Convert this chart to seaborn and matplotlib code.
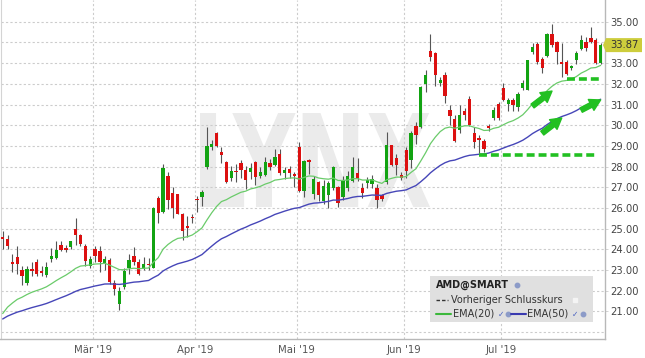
import numpy as np
import pandas as pd
import matplotlib
matplotlib.use("Agg")
import matplotlib.pyplot as plt
import seaborn as sns
from matplotlib.textpath import TextPath
from matplotlib.patches import PathPatch, Rectangle, Polygon
from matplotlib.font_manager import FontProperties
from matplotlib.transforms import Affine2D
from matplotlib.lines import Line2D

# ---------------- data ----------------
holidays = pd.to_datetime(["2019-02-18", "2019-04-19", "2019-05-27", "2019-07-04"])
dates = pd.bdate_range("2019-02-01", "2019-07-30")
dates = dates[~dates.isin(holidays)]

opens = [24.6, 24.5, 23.4, 23.65, 23.0, 22.38, 23.05, 23.4, 22.95, 22.75,
         23.55, 23.6, 24.2, 24.05, 24.1, 25.0, 24.7, 24.15, 23.2, 24.0,
         23.9, 23.35, 23.5, 22.4, 21.35, 22.2, 23.12, 23.66, 23.37, 23.04,
         23.3, 23.12, 26.48, 25.8, 27.55, 26.74, 26.66, 25.7, 25.1, 25.55,
         26.4, 26.53, 28.0, 28.93, 29.62, 28.69, 28.24, 27.45, 27.8, 28.19,
         27.83, 27.72, 28.2, 27.56, 27.6, 28.15, 28.09, 28.6, 27.67, 27.88,
         27.6, 28.93, 26.84, 28.33, 26.67, 27.24, 26.35, 26.64, 26.96, 27.03,
         26.51, 26.96, 27.32, 27.67, 26.95, 27.19, 27.16, 26.98, 26.62, 27.26,
         29.02, 28.42, 27.58, 28.8, 28.33, 29.98, 29.9, 32.01, 33.58, 33.5,
         32.04, 32.45, 30.75, 30.3, 29.78, 30.67, 31.27, 29.62, 29.38, 29.26,
         29.94, 30.36, 31.04, 31.81, 31.04, 31.23, 30.87, 31.81, 31.72, 33.54,
         33.92, 33.22, 33.33, 34.4, 34.03, 33.06, 33.06, 32.78, 33.14, 33.66,
         34.03, 34.19, 34.14, 33.0]
highs = [24.9, 24.7, 23.8, 24.15, 23.2, 23.2, 23.4, 23.55, 23.2, 23.4,
         24.05, 24.4, 24.4, 24.2, 24.4, 25.5, 24.75, 24.25, 23.7, 24.15,
         24.15, 23.7, 23.6, 22.5, 22.2, 23.1, 23.77, 24.13, 23.53, 23.64,
         23.6, 26.05, 26.56, 28.12, 27.75, 27.0, 26.7, 25.75, 25.6, 25.7,
         26.6, 26.85, 29.9, 29.28, 29.65, 28.93, 28.29, 28.04, 28.12, 28.32,
         28.04, 28.16, 28.25, 27.96, 28.45, 28.37, 28.85, 28.85, 27.96, 28.04,
         27.72, 29.17, 28.32, 28.37, 27.56, 27.32, 27.35, 27.32, 28.04, 27.08,
         27.56, 27.77, 28.45, 28.41, 27.2, 27.5, 27.6, 27.14, 26.67, 29.68,
         29.05, 28.6, 27.74, 28.95, 29.7, 30.14, 31.88, 32.69, 34.39, 33.53,
         32.33, 32.56, 30.99, 30.51, 30.99, 30.83, 31.4, 29.91, 29.54, 29.34,
         30.06, 30.87, 31.12, 32.04, 31.33, 31.33, 31.6, 32.17, 33.17, 33.98,
         34.03, 33.3, 34.47, 34.89, 34.08, 33.95, 33.14, 32.9, 33.59, 34.35,
         34.27, 34.76, 34.19, 33.95]
lows = [24.0, 24.0, 22.9, 22.8, 22.3, 22.3, 22.7, 22.7, 22.7, 22.65,
        23.4, 23.55, 23.9, 23.85, 24.0, 24.2, 24.15, 23.2, 23.1, 23.4,
        22.9, 23.0, 22.35, 21.8, 21.05, 22.07, 22.8, 23.25, 22.77, 22.99,
        23.0, 23.1, 25.27, 25.75, 25.96, 25.5, 25.69, 24.45, 24.58, 25.27,
        25.8, 26.08, 27.88, 28.8, 28.93, 28.16, 27.19, 27.32, 27.24, 27.45,
        26.92, 27.4, 27.13, 27.45, 27.56, 27.83, 28.04, 27.6, 27.4, 27.45,
        27.0, 26.76, 26.52, 27.64, 26.43, 26.35, 26.19, 26.0, 26.87, 26.03,
        26.38, 26.84, 27.24, 27.32, 26.47, 26.97, 26.96, 26.0, 26.35, 27.18,
        28.02, 27.58, 27.34, 27.45, 27.92, 29.1, 29.86, 31.6, 33.09, 31.88,
        31.88, 31.07, 30.02, 29.17, 29.62, 30.27, 29.94, 28.89, 28.65, 28.7,
        29.74, 30.23, 30.26, 31.17, 30.71, 30.71, 30.71, 31.68, 31.68, 33.43,
        32.98, 32.52, 33.3, 33.79, 32.98, 32.33, 32.41, 32.65, 32.94, 33.62,
        33.59, 33.95, 32.98, 32.95]
closes = [24.5, 24.15, 23.3, 23.27, 22.7, 23.05, 22.95, 22.8, 22.85, 23.15,
          23.7, 23.95, 23.95, 23.97, 24.4, 24.7, 24.25, 23.45, 23.55, 23.7,
          23.4, 23.55, 22.4, 22.1, 22.0, 22.95, 23.5, 23.37, 22.83, 23.28,
          23.23, 26.0, 25.75, 27.91, 26.37, 26.0, 25.72, 24.9, 25.04, 25.5,
          26.37, 26.78, 29.0, 29.1, 29.0, 28.56, 27.24, 27.8, 27.72, 27.83,
          27.35, 27.93, 27.48, 27.72, 28.2, 27.96, 28.45, 27.67, 27.83, 27.67,
          27.56, 26.84, 28.25, 28.2, 27.4, 26.64, 27.08, 27.19, 27.96, 26.22,
          27.35, 27.56, 28.0, 27.45, 26.71, 27.37, 27.42, 26.39, 26.45, 29.03,
          28.09, 28.06, 27.47, 27.8, 29.62, 29.54, 31.85, 32.45, 33.3, 32.45,
          32.2, 31.43, 30.43, 29.26, 30.51, 30.51, 30.02, 29.17, 29.3, 28.85,
          29.87, 30.74, 30.36, 31.2, 31.23, 31.0, 31.52, 32.04, 33.14, 33.79,
          33.06, 32.78, 34.4, 33.87, 33.54, 32.98, 32.49, 32.85, 33.5, 34.11,
          33.71, 34.03, 33.0, 33.87]

# EMA values just before the first visible bar
ema20_prev = 20.52
ema50_prev = 20.48

month_labels = ["Mär '19", "Apr '19", "Mai '19", "Jun '19", "Jul '19"]
price_ticks = list(range(21, 36))

# annotations drawn on the chart (support levels and trend arrows)
support_levels = [28.57, 32.25]
support_start = ["2019-06-24", "2019-07-19"]
support_end = ["2019-07-29", "2019-07-30"]
arrow_tail_dates = ["2019-07-10", "2019-07-12", "2019-07-24"]
arrow_tail_vals = [30.93, 29.62, 30.73]
arrow_head_dates = ["2019-07-16", "2019-07-18", "2019-07-30"]
arrow_head_vals = [31.65, 30.35, 31.22]

# ---------------- frame ----------------
df = pd.DataFrame({"date": dates, "open": opens, "high": highs,
                   "low": lows, "close": closes})
df["pos"] = np.arange(len(df))
df["ema20"] = pd.Series([ema20_prev] + closes).ewm(span=20, adjust=False).mean().iloc[1:].values
df["ema50"] = pd.Series([ema50_prev] + closes).ewm(span=50, adjust=False).mean().iloc[1:].values
pos_of = {d: p for d, p in zip(df["date"], df["pos"])}

sns.set_theme(style="white")
plt.rcParams["font.family"] = ["DejaVu Sans"]

W, H = 645, 358
fig = plt.figure(figsize=(W / 100, H / 100), dpi=100)
ax = fig.add_axes([0.5 / W, 1 - 339 / H, 604.5 / W, 339 / H])

GREEN_C = "#12a312"
RED_C = "#dc1010"
ANN = "#22c022"

# watermark
tp = TextPath((0, 0), "LYNX", size=1, prop=FontProperties(family="DejaVu Sans", weight="bold"))
ext = tp.get_extents()
bx0, bx1 = 200 / W, 430 / W
by0, by1 = 1 - 207 / H, 1 - 113 / H
tr = (Affine2D().translate(-ext.x0, -ext.y0)
      .scale((bx1 - bx0) / ext.width, (by1 - by0) / ext.height)
      .translate(bx0, by0) + fig.transFigure)
ax.add_patch(PathPatch(tp, transform=tr, facecolor="#ebebeb", edgecolor="none", zorder=0.1))

# candles
up = df["close"] >= df["open"]
colors = np.where(up, GREEN_C, RED_C)
ax.vlines(df["pos"], df["low"], df["high"], color="#555555", linewidth=0.8, zorder=2)
body_bottom = np.minimum(df["open"], df["close"])
body_h = np.maximum((df["close"] - df["open"]).abs(), 0.08)
ax.bar(df["pos"], body_h, bottom=body_bottom, width=0.68, color=colors,
       edgecolor="none", zorder=3)

# EMAs
sns.lineplot(data=df, x="pos", y="ema20", ax=ax, color="#6acb6a", linewidth=0.9, zorder=4)
sns.lineplot(data=df, x="pos", y="ema50", ax=ax, color="#4646b8", linewidth=1.0, zorder=4)

# support levels
for lvl, s, e in zip(support_levels, support_start, support_end):
    ax.plot([pos_of[pd.Timestamp(s)], pos_of[pd.Timestamp(e)]], [lvl, lvl],
            color=ANN, linewidth=2.6, dashes=(2.2, 1.1), zorder=5, solid_capstyle="butt")
# trend arrows
for td, tv, hd, hv in zip(arrow_tail_dates, arrow_tail_vals, arrow_head_dates, arrow_head_vals):
    ax.annotate("", xy=(pos_of[pd.Timestamp(hd)], hv), xytext=(pos_of[pd.Timestamp(td)], tv),
                arrowprops=dict(arrowstyle="simple,head_width=0.8,head_length=0.7,tail_width=0.32",
                                color=ANN, mutation_scale=11, shrinkA=0, shrinkB=0), zorder=6)

# last price (the tag hides the tick label it covers)
last = closes[-1]

# axes
ax.set_xlim(-0.45, 123.9)
ax.set_ylim(19.67, 36.05)
month_first = df.groupby(df["date"].dt.to_period("M"))["pos"].min().values[1:]
ax.set_xticks(month_first - 0.5)
ax.set_xticklabels(month_labels)
ax.set_yticks(price_ticks)
ax.set_yticklabels(["" if abs(v - last) < 0.5 else f"{v:.2f}" for v in price_ticks])
ax.yaxis.tick_right()
ax.set_xlabel("")
ax.set_ylabel("")
ax.set_axisbelow(True)
ax.grid(True, color="#cccccc", linewidth=0.8, linestyle=(0, (2, 2)))
ax.set_yticks([20], minor=True)
ax.grid(True, which="minor", axis="y", color="#cccccc", linewidth=0.8, linestyle=(0, (2, 2)))
ax.tick_params(axis="y", which="major", length=2.5, width=0.6, color="#cccccc", pad=1.0,
               labelsize=7.2, labelcolor="#444444")
ax.tick_params(axis="y", which="minor", length=0)
ax.tick_params(axis="x", length=0, pad=4, labelsize=7.3, labelcolor="#555555")
ax.spines["top"].set_visible(False)
ax.spines["left"].set_color("#d4d4d4")
ax.spines["left"].set_linewidth(0.8)
ax.spines["right"].set_color("#b8b8b8")
ax.spines["right"].set_linewidth(1.0)
ax.spines["bottom"].set_color("#b8b8b8")
ax.spines["bottom"].set_linewidth(1.0)

# last price tag
yfrac = ax.transData.transform((0, last))[1] / fig.dpi / (H / 100)
tagx0, tagx1 = 606 / W, 642 / W
th = 14 / H
fig.add_artist(Polygon([[603 / W, yfrac], [tagx0, yfrac + th / 2], [tagx1, yfrac + th / 2],
                        [tagx1, yfrac - th / 2], [tagx0, yfrac - th / 2]],
                       closed=True, transform=fig.transFigure, facecolor="#cdcd3c",
                       edgecolor="none", zorder=10))
fig.text(624 / W, yfrac, f"{last:.2f}", ha="center", va="center", fontsize=7.2,
         color="#333333", zorder=11)

# legend box
def fx(px):
    return px / W


def fy(py):
    return 1 - py / H


fig.add_artist(Rectangle((fx(430), fy(322)), fx(593) - fx(430), (322 - 276) / H,
                         transform=fig.transFigure, facecolor="#e0e0e0",
                         edgecolor="none", zorder=10))
fig.text(fx(436), fy(285), "AMD@SMART", fontsize=7.0, fontweight="bold", color="#222222",
         va="center", ha="left", zorder=11)
icon = dict(marker="o", markersize=3.2, color="#8c9bc8", linestyle="none",
            transform=fig.transFigure, zorder=11)
fig.add_artist(Line2D([fx(517)], [fy(285)], **icon))
fig.add_artist(Line2D([fx(436), fx(448)], [fy(300), fy(300)], color="#333333", linewidth=1.0,
                      dashes=(2.5, 1.5), transform=fig.transFigure, zorder=11))
fig.text(fx(451), fy(300), "Vorheriger Schlusskurs", fontsize=7.0, color="#333333",
         va="center", ha="left", zorder=11)
fig.add_artist(Line2D([fx(575)], [fy(300)], marker="s", markersize=3, color="#f4f4f4",
                      linestyle="none", transform=fig.transFigure, zorder=11))
fig.add_artist(Line2D([fx(436), fx(451)], [fy(314), fy(314)], color="#3cb83c", linewidth=1.5,
                      transform=fig.transFigure, zorder=11))
fig.text(fx(453), fy(314), "EMA(20)", fontsize=7.0, color="#333333", va="center", ha="left", zorder=11)
fig.text(fx(498), fy(314), "\u2713", fontsize=5.5, color="#4a62c0", va="center", ha="left", zorder=11)
fig.add_artist(Line2D([fx(508)], [fy(314)], **icon))
fig.add_artist(Line2D([fx(511), fx(526)], [fy(314), fy(314)], color="#3a3ab0", linewidth=1.5,
                      transform=fig.transFigure, zorder=11))
fig.text(fx(527), fy(314), "EMA(50)", fontsize=7.0, color="#333333", va="center", ha="left", zorder=11)
fig.text(fx(572), fy(314), "\u2713", fontsize=5.5, color="#4a62c0", va="center", ha="left", zorder=11)
fig.add_artist(Line2D([fx(583)], [fy(314)], **icon))

fig.savefig("out.png", dpi=100)
